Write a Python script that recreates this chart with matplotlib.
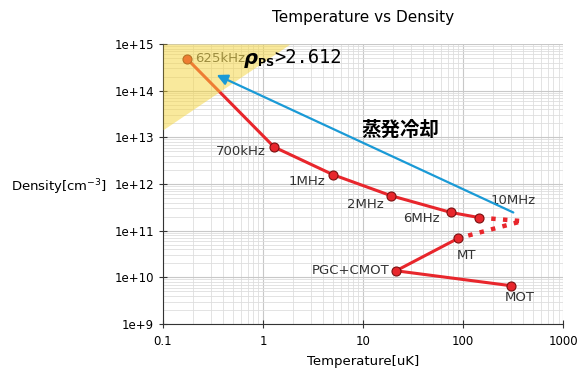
import matplotlib
matplotlib.use("Agg")

import matplotlib.pyplot as plt
import numpy as np

# Datos
evap_T = [0.174, 1.29, 5.05, 19.1, 75.9, 146]
evap_n = [4.8e14, 6.2e12, 1.57e12, 5.6e11, 2.45e11, 1.9e11]
evap_lbl = ["625kHz", "700kHz", "1MHz", "2MHz", "6MHz"]

mot_T = [302, 21.4, 89.8]
mot_n = [6.6e9, 1.38e10, 6.9e10]
mot_lbl = ["MOT", "PGC+CMOT", "MT"]

gap_T = [146, 390, 89.8]
gap_n = [1.9e11, 1.6e11, 6.9e10]

arrow_T = [318, 0.344]
arrow_n = [2.45e11, 2.17e14]

# region rho_PS > 2.612 (n ~ T^1.5)
ps_T = [0.1, 1.86]
ps_n = [1.45e13, 1e15]

xticks = [0.1, 1, 10, 100, 1000]
xtick_lbl = ["0.1", "1", "10", "100", "1000"]
yticks = [1e9, 1e10, 1e11, 1e12, 1e13, 1e14, 1e15]
ytick_lbl = ["1e+9", "1e+10", "1e+11", "1e+12", "1e+13", "1e+14", "1e+15"]

red = "#e8262c"
blue = "#1a9ad6"

fig = plt.figure(figsize=(5.79, 3.69), dpi=100)
ax = fig.add_axes([0.2815, 0.122, 0.691, 0.7588])
ax.set_xscale("log")
ax.set_yscale("log")
ax.set_xlim(0.1, 1000)
ax.set_ylim(1e9, 1e15)

ax.grid(True, which="major", color="#c8c8c8", lw=0.8)
ax.grid(True, which="minor", color="#dedede", lw=0.6)
ax.set_axisbelow(True)
for s in ["top", "right"]:
    ax.spines[s].set_visible(False)
for s in ["left", "bottom"]:
    ax.spines[s].set_color("#333333")

ax.set_xticks(xticks)
ax.set_xticklabels(xtick_lbl)
ax.set_yticks(yticks)
ax.set_yticklabels(ytick_lbl)
ax.tick_params(which="major", direction="inout", length=6, labelsize=8.5, color="#333333")
ax.tick_params(axis="x", which="major", pad=5)
ax.tick_params(which="minor", length=0)

ax.plot(evap_T, evap_n, "-o", color=red, lw=2.2, ms=6.5, mec="#7a1010", mew=0.8, zorder=3)
ax.plot(mot_T, mot_n, "-o", color=red, lw=2.2, ms=6.5, mec="#7a1010", mew=0.8, zorder=3)
ax.plot(gap_T, gap_n, ":", color=red, lw=3.2, zorder=2)

# zona amarilla encima (semi transparente)
ax.fill_between(ps_T, ps_n, [1e15, 1e15], color="#f5d53a", alpha=0.5, lw=0, zorder=4)

ax.annotate("", xy=(arrow_T[1], arrow_n[1]), xytext=(arrow_T[0], arrow_n[0]),
            arrowprops=dict(arrowstyle="-|>", color=blue, lw=1.6,
                            mutation_scale=16, shrinkA=0, shrinkB=0), zorder=5)

# etiquetas
ax.text(evap_T[0] * 1.2, evap_n[0], evap_lbl[0], fontsize=9.5, color="#444444",
        ha="left", va="center", zorder=3)
ax.text(0.65, evap_n[0], "ρ", fontsize=14, fontweight="bold", style="italic",
        ha="left", va="center", zorder=6)
ax.text(0.9, evap_n[0] * 0.8, "PS", fontsize=8, fontweight="bold",
        ha="left", va="center", zorder=6)
ax.text(1.3, evap_n[0] * 1.05, ">2.612", fontsize=13.5, family="DejaVu Sans Mono",
        ha="left", va="center", zorder=6)
ax.text(23.4, 1.45e13, "蒸発冷却", fontsize=14, fontweight="bold",
        family=["Noto Sans CJK JP", "DejaVu Sans"], ha="center", va="center", zorder=6)

offs = [(-6, -3), (-6, -4.5), (-5, -6.5), (-8, -4.5)]
for T, n, lbl, o in zip(evap_T[1:5], evap_n[1:5], evap_lbl[1:], offs):
    ax.annotate(lbl, (T, n), xytext=o, textcoords="offset points",
                ha="right", va="center", fontsize=9.5, color="#333333")
ax.annotate("10MHz", (330, 2.45e11), xytext=(-1, 4), textcoords="offset points",
            ha="center", va="bottom", fontsize=9.5, color="#333333")
ax.annotate(mot_lbl[0], (mot_T[0], mot_n[0]), xytext=(6, -4), textcoords="offset points",
            ha="center", va="top", fontsize=9.5, color="#333333")
ax.annotate(mot_lbl[1], (mot_T[1], mot_n[1]), xytext=(-5, 0), textcoords="offset points",
            ha="right", va="center", fontsize=9.5, color="#333333")
ax.annotate(mot_lbl[2], (mot_T[2], mot_n[2]), xytext=(6, -8), textcoords="offset points",
            ha="center", va="top", fontsize=9.5, color="#333333")

ax.set_title("Temperature vs Density", fontsize=11, pad=16)
ax.set_xlabel("Temperature[uK]", fontsize=9.5, labelpad=5)
ax.set_ylabel("Density[cm$^{-3}$]", fontsize=9.5, rotation=0, ha="right", va="center")
ax.yaxis.set_label_coords(-0.14, 0.49)

fig.savefig("out.png", dpi=100)
